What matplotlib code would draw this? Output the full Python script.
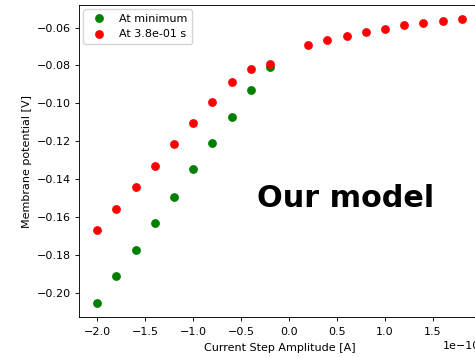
import numpy as np
import matplotlib
matplotlib.use("Agg")
import matplotlib.pyplot as plt

# Current step amplitudes (A)
steps_neg = np.array([-2.0, -1.8, -1.6, -1.4, -1.2, -1.0, -0.8, -0.6, -0.4, -0.2]) * 1e-10
steps_all = np.array([-2.0, -1.8, -1.6, -1.4, -1.2, -1.0, -0.8, -0.6, -0.4, -0.2,
                      0.2, 0.4, 0.6, 0.8, 1.0, 1.2, 1.4, 1.6, 1.8]) * 1e-10

# Membrane potential at the minimum of the response (V)
v_minimum = [-0.2053, -0.1910, -0.1773, -0.1631, -0.1492, -0.1349,
             -0.1211, -0.1070, -0.0929, -0.0809]

# Membrane potential at t = 0.38 s (V)
v_at_time = [-0.1670, -0.1559, -0.1443, -0.1330, -0.1216, -0.1105,
             -0.0992, -0.0885, -0.0818, -0.0792,
             -0.0693, -0.0667, -0.0644, -0.0623, -0.0609, -0.0589,
             -0.0577, -0.0568, -0.0556]

plt.rcParams.update({
    "font.size": 8,
    "axes.linewidth": 0.64,
    "xtick.major.width": 0.64,
    "ytick.major.width": 0.64,
    "xtick.major.size": 2.8,
    "ytick.major.size": 2.8,
    "xtick.major.pad": 4.2,
    "ytick.major.pad": 2.8,
})

fig = plt.figure(figsize=(4.75, 3.57), dpi=100)
ax = fig.add_axes([0.1663, 0.112, 0.8442, 0.874])

ax.plot(steps_neg, v_minimum, "o", color="green", markersize=5.3,
        linestyle="none", label="At minimum")
ax.plot(steps_all, v_at_time, "o", color="red", markersize=5.3,
        linestyle="none", label="At 3.8e-01 s")

ax.set_xlabel("Current Step Amplitude [A]", labelpad=4.5)
ax.set_ylabel("Membrane potential [V]", labelpad=4.0)
ax.legend(loc="upper left", numpoints=1, fontsize=8, borderaxespad=0.4)

ax.text(0.444, 0.353, "Our model", transform=ax.transAxes,
        fontsize=21.8, fontweight="bold", ha="left", va="baseline")

fig.savefig("out.png", dpi=100)
